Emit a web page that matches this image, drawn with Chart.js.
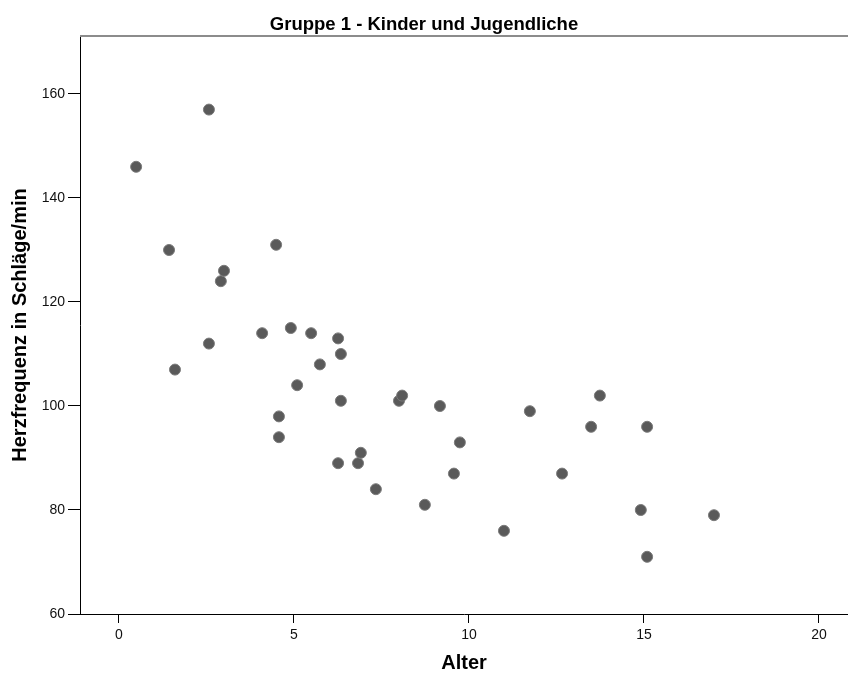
<!DOCTYPE html>
<html>
<head>
<meta charset="utf-8">
<script src="https://cdn.jsdelivr.net/npm/chart.js@4"></script>
<style>
  html, body { margin: 0; padding: 0; background: #fff; }
  #wrap { width: 848px; height: 675px; }
</style>
</head>
<body>
<div id="wrap"><canvas id="herzChart" width="848" height="675"></canvas></div>
<script>
// Alter (Jahre) und Herzfrequenz (Schläge/min)
var alter = [0.49, 1.43, 2.57, 1.6, 2.57, 2.91, 3.0, 4.49, 4.09, 4.91,
             4.57, 4.57, 5.09, 5.49, 5.74, 6.26, 6.34, 6.34, 6.26, 6.83,
             6.91, 7.34, 8.0, 8.09, 8.74, 9.17, 9.57, 9.74, 11.0, 11.74,
             12.66, 13.49, 13.74, 14.91, 15.09, 15.09, 17.0];
var herzfrequenz = [146, 130, 157, 107, 112, 124, 126, 131, 114, 115,
                    98, 94, 104, 114, 108, 113, 110, 101, 89, 89,
                    91, 84, 101, 102, 81, 100, 87, 93, 76, 99,
                    87, 96, 102, 80, 71, 96, 79];

var xTicks = [0, 5, 10, 15, 20];
var yTicks = [60, 80, 100, 120, 140, 160];

var titel = 'Gruppe 1 - Kinder und Jugendliche';
var xTitel = 'Alter';
var yTitel = 'Herzfrequenz in Schläge/min';

var points = alter.map(function(a, i) {
    return { x: a, y: herzfrequenz[i] };
});

var fontFamily = "'Liberation Sans', Arial, sans-serif";

// grey frame line along the top of the plot area
var topBorder = {
    id: 'topBorder',
    afterDraw: function(chart) {
        var area = chart.chartArea;
        var ctx = chart.ctx;
        ctx.save();
        ctx.strokeStyle = '#8c8c8c';
        ctx.lineWidth = 2;
        ctx.beginPath();
        ctx.moveTo(area.left, area.top);
        ctx.lineTo(chart.width, area.top);
        ctx.stroke();
        ctx.restore();
    }
};

var ctx = document.getElementById('herzChart').getContext('2d');
var chart = new Chart(ctx, {
    type: 'scatter',
    data: {
        datasets: [{
            data: points,
            backgroundColor: '#5a5a5a',
            borderColor: '#7a7a7a',
            borderWidth: 1,
            pointRadius: 5.5,
            pointHoverRadius: 5.5
        }]
    },
    options: {
        responsive: false,
        animation: false,
        layout: { padding: 0, autoPadding: false },
        plugins: {
            legend: { display: false },
            tooltip: { enabled: false },
            title: {
                display: true,
                text: titel,
                color: '#000',
                font: { family: fontFamily, size: 18.5, weight: 'bold', lineHeight: 1.2 },
                padding: { top: 13.4, bottom: 0.4 }
            }
        },
        scales: {
            x: {
                type: 'linear',
                min: -1.114,
                max: 20.83,
                afterBuildTicks: function(scale) {
                    scale.ticks = xTicks.map(function(v) { return { value: v }; });
                },
                afterFit: function(scale) {
                    scale.height = 61;
                    scale.paddingLeft = 0;
                    scale.paddingRight = 0;
                },
                grid: { drawOnChartArea: false, color: '#000', tickLength: 9 },
                border: { color: '#000', width: 1 },
                ticks: {
                    color: '#111',
                    padding: 4,
                    maxRotation: 0,
                    font: { family: fontFamily, size: 14 }
                },
                title: {
                    display: true,
                    text: xTitel,
                    color: '#000',
                    font: { family: fontFamily, size: 20, weight: 'bold', lineHeight: 1.2 },
                    padding: { top: 0, bottom: 0 }
                }
            },
            y: {
                type: 'linear',
                min: 60,
                max: 171.15,
                afterBuildTicks: function(scale) {
                    scale.ticks = yTicks.map(function(v) { return { value: v }; });
                },
                afterFit: function(scale) {
                    scale.width = 80;
                    scale.paddingTop = 0;
                    scale.paddingBottom = 0;
                },
                grid: { drawOnChartArea: false, color: '#000', tickLength: 12 },
                border: { color: '#000', width: 1 },
                ticks: {
                    color: '#111',
                    padding: 3,
                    font: { family: fontFamily, size: 14 }
                },
                title: {
                    display: true,
                    text: yTitel,
                    color: '#000',
                    font: { family: fontFamily, size: 20, weight: 'bold', lineHeight: 1.2 },
                    padding: { top: 8, bottom: 0 }
                }
            }
        }
    },
    plugins: [topBorder]
});
</script>
</body>
</html>
